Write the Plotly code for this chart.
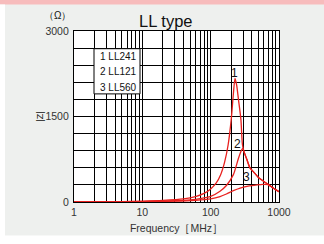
import plotly.graph_objects as go

# ---- data ----
freq_ll241 = [1, 5, 10, 20, 40, 60, 80, 100, 120, 140, 160, 180, 200, 215, 227, 240, 255, 277, 292, 310, 340, 376, 430, 500, 600, 700, 800, 1000]
z_ll241 = [2, 8, 15, 28, 55, 95, 150, 230, 330, 480, 700, 1000, 1450, 1900, 2170, 2050, 1800, 1450, 1000, 870, 740, 600, 520, 430, 360, 305, 255, 180]

freq_ll121 = [1, 10, 30, 50, 70, 100, 137, 170, 215, 254, 280, 294, 310, 340, 376, 430, 500, 600, 700, 800, 1000]
z_ll121 = [1, 8, 22, 38, 60, 100, 190, 290, 480, 760, 900, 940, 870, 740, 600, 520, 430, 360, 305, 255, 180]

freq_ll560 = [1, 10, 30, 60, 100, 137, 170, 215, 270, 340, 450, 580, 700, 800, 1000]
z_ll560 = [1, 6, 15, 30, 55, 95, 140, 200, 245, 275, 295, 310, 305, 255, 180]

x_grid_vals = [m * d for d in (1, 10, 100) for m in range(1, 10)] + [1000]
x_tick_text = [str(v) if v in (1, 10, 100, 1000) else "" for v in x_grid_vals]
y_grid_vals = list(range(0, 3001, 300))
y_tick_text = [str(v) if v in (0, 1500, 3000) else "" for v in y_grid_vals]

legend_lines = ["1 LL241", "2 LL121", "3 LL560"]

RED = "#e8201e"
W, H = 324, 244
L, R, T, B = 74, 45, 31, 39
pw, ph = W - L - R, H - T - B
FONT = "Liberation Sans, Arial, sans-serif"


def px(xp):
    return (xp - L) / pw


def py(yp):
    return (H - B - yp) / ph


fig = go.Figure()
for f, z in [(freq_ll560, z_ll560), (freq_ll121, z_ll121), (freq_ll241, z_ll241)]:
    fig.add_trace(go.Scatter(x=f, y=z, mode="lines",
                             line=dict(color=RED, width=1.3, shape="spline", smoothing=0.7),
                             showlegend=False, hoverinfo="skip"))

axis_common = dict(showgrid=True, gridcolor="#000", gridwidth=1.2, showline=True,
                   linecolor="#000", linewidth=1.2, mirror=True, ticks="", zeroline=False,
                   tickfont=dict(family=FONT, size=10.5, color="#333"))

fig.update_xaxes(type="log", range=[0, 3], tickmode="array", tickvals=x_grid_vals,
                 ticktext=x_tick_text, ticklabelstandoff=0,
                 title=dict(text="Frequency［MHz］", font=dict(family=FONT, size=10.5, color="#333"), standoff=7),
                 **axis_common)
fig.update_yaxes(range=[0, 3000], tickmode="array", tickvals=y_grid_vals,
                 ticktext=y_tick_text, ticklabelstandoff=2, **axis_common)

ann_font = dict(family=FONT, color="#111")
annotations = [
    dict(text="LL type", xref="paper", yref="paper", x=px(166), y=py(21), showarrow=False,
         xanchor="center", yanchor="middle", font=dict(size=16.5, **ann_font)),
    dict(text="（Ω）", xref="paper", yref="paper", x=px(57), y=py(15), showarrow=False,
         xanchor="center", yanchor="middle", font=dict(size=10, **ann_font)),
    dict(text="|Z|", xref="paper", yref="paper", x=px(39), y=py(118), showarrow=False,
         xanchor="center", yanchor="middle", textangle=-90, font=dict(size=9, **ann_font)),
    dict(text="1", x=2.356, y=2259, showarrow=False, font=dict(size=12, **ann_font)),
    dict(text="2", x=2.396, y=1017, showarrow=False, font=dict(size=12, **ann_font)),
    dict(text="3", x=2.527, y=431, showarrow=False, font=dict(size=12, **ann_font)),
]
for i, (line, yc) in enumerate(zip(legend_lines, [57, 72.5, 88])):
    annotations.append(dict(text=line, xref="paper", yref="paper", x=px(97.5), y=py(yc),
                            showarrow=False, xanchor="left", yanchor="middle",
                            font=dict(size=10, **ann_font)))

shapes = [
    dict(type="rect", xref="paper", yref="paper", x0=px(94), x1=px(140), y0=py(95), y1=py(49),
         fillcolor="white", line=dict(color="#000", width=1), layer="above"),
    dict(type="rect", xref="paper", yref="paper", x0=px(-5), x1=px(W + 5), y0=py(4), y1=py(-5),
         fillcolor="#f7bcbc", line=dict(width=0), layer="above"),
    dict(type="rect", xref="paper", yref="paper", x0=px(-5), x1=px(5), y0=py(H + 5), y1=py(4),
         fillcolor="white", line=dict(width=0), layer="above"),
    dict(type="rect", xref="paper", yref="paper", x0=px(-5), x1=px(W + 5), y0=py(H + 5), y1=py(239),
         fillcolor="white", line=dict(width=0), layer="above"),
]

fig.update_layout(width=W, height=H, margin=dict(l=L, r=R, t=T, b=B),
                  paper_bgcolor="#eef0ee", plot_bgcolor="white",
                  annotations=annotations, shapes=shapes, showlegend=False)

fig.write_html("out.html", config={"displayModeBar": False},
               post_script="document.body.style.margin='0';document.body.style.overflow='hidden';")
